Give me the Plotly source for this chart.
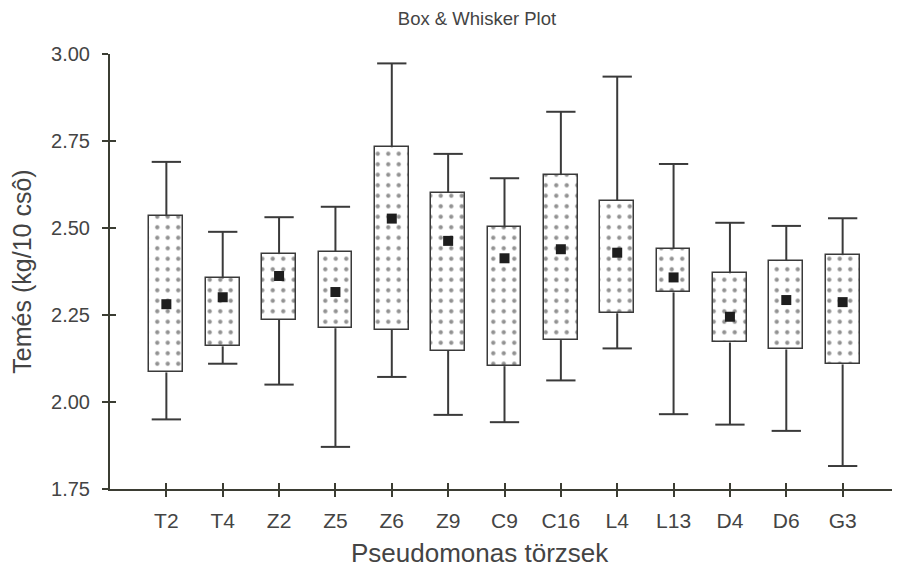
import plotly.graph_objects as go

strains = ["T2", "T4", "Z2", "Z5", "Z6", "Z9", "C9", "C16", "L4", "L13", "D4", "D6", "G3"]
whisker_low = [1.950, 2.110, 2.050, 1.871, 2.072, 1.963, 1.942, 2.062, 2.154, 1.965, 1.935, 1.917, 1.816]
box_low = [2.085, 2.160, 2.236, 2.212, 2.207, 2.147, 2.103, 2.178, 2.255, 2.315, 2.171, 2.151, 2.108]
center = [2.281, 2.301, 2.362, 2.316, 2.527, 2.463, 2.413, 2.439, 2.429, 2.358, 2.245, 2.293, 2.287]
box_high = [2.534, 2.355, 2.425, 2.432, 2.732, 2.601, 2.502, 2.652, 2.578, 2.440, 2.370, 2.406, 2.422]
whisker_high = [2.690, 2.489, 2.531, 2.561, 2.973, 2.713, 2.643, 2.834, 2.935, 2.684, 2.515, 2.506, 2.528]
y_ticks = [1.75, 2.00, 2.25, 2.50, 2.75, 3.00]

idx = list(range(len(strains)))
line_col = "#3a3a3a"
axis_col = "#3b3d33"
text_col = "#444444"
cap_half = 0.26

fig = go.Figure()

# whiskers (vertical lines) and caps
wx, wy = [], []
for i in idx:
    wx += [i, i, None, i, i, None]
    wy += [box_high[i], whisker_high[i], None, box_low[i], whisker_low[i], None]
    wx += [i - cap_half, i + cap_half, None, i - cap_half, i + cap_half, None]
    wy += [whisker_high[i], whisker_high[i], None, whisker_low[i], whisker_low[i], None]
fig.add_trace(go.Scatter(x=wx, y=wy, mode="lines", line=dict(color=line_col, width=2),
                         hoverinfo="skip", showlegend=False))

# boxes
fig.add_trace(go.Bar(
    x=idx, y=[h - l for h, l in zip(box_high, box_low)], base=box_low, width=0.6,
    marker=dict(color="white", line=dict(color=line_col, width=1.5),
                pattern=dict(shape=".", fgcolor="#262626", bgcolor="white", size=10.5, solidity=0.13)),
    showlegend=False,
))

# center markers
fig.add_trace(go.Scatter(x=idx, y=center, mode="markers",
                         marker=dict(symbol="square", size=10, color="#1e1e1e"),
                         showlegend=False))

# page body has an 8px margin: figure drawn at (8, 8)
fig.update_layout(
    width=892, height=559,
    margin=dict(l=102, r=1, t=46, b=78),
    paper_bgcolor="white", plot_bgcolor="white",
    font=dict(family="Liberation Sans, Arial, sans-serif", color=text_col),
    title=dict(text="Box & Whisker Plot", x=469 / 892, xanchor="center",
               y=1 - 11 / 559, yanchor="middle", font=dict(size=18.5, color=text_col)),
    bargap=0,
    xaxis2=dict(overlaying="x", range=[-1, 13], tickvals=idx, showticklabels=False,
                ticks="inside", ticklen=6, tickwidth=2, tickcolor=axis_col, showgrid=False,
                zeroline=False, showline=False, side="bottom", anchor="y"),
    yaxis2=dict(overlaying="y", range=[1.75, 3.0], tickvals=y_ticks, showticklabels=False,
                ticks="inside", ticklen=6, tickwidth=2, tickcolor=axis_col, showgrid=False,
                zeroline=False, showline=False, side="left", anchor="x"),
    annotations=[dict(text="Pseudomonas törzsek", xref="paper", yref="paper",
                      x=(480 - 110) / 789, y=-(553 - 489) / 435, xanchor="center", yanchor="middle",
                      showarrow=False, font=dict(size=26, color=text_col))],
)
fig.layout.xaxis.update(range=[-1, 13], tickvals=idx, ticktext=strains, showline=True, linecolor=axis_col,
                        linewidth=2, ticks="outside", ticklen=6, tickwidth=2, tickcolor=axis_col,
                        showgrid=False, zeroline=False, tickfont=dict(size=21, color=text_col),
                        automargin=False, ticklabelstandoff=6)
fig.layout.yaxis.update(range=[1.75, 3.0], tickvals=y_ticks, ticktext=[f"{v:.2f}" for v in y_ticks],
                        showline=True, linecolor=axis_col, linewidth=2, ticks="outside", ticklen=6,
                        tickwidth=2, tickcolor=axis_col, showgrid=False, zeroline=False,
                        tickfont=dict(size=20, color=text_col), automargin=False, ticklabelstandoff=8,
                        title=dict(text="Temés (kg/10 csô)", font=dict(size=25, color=text_col), standoff=16))
fig.add_trace(go.Scatter(x=[None], y=[None], xaxis="x2", yaxis="y2", showlegend=False, hoverinfo="skip"))

fig.write_html("out.html")
